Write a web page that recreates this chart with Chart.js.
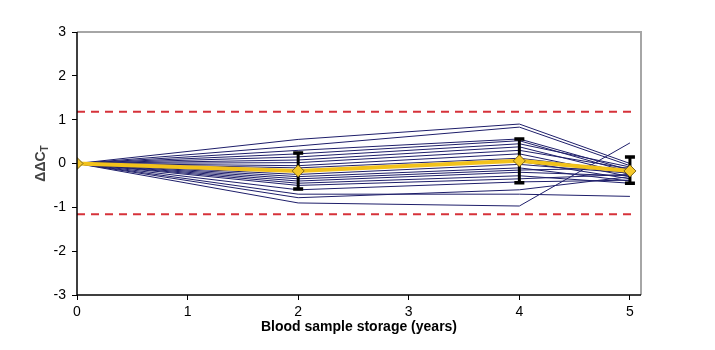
<!DOCTYPE html>
<html>
<head>
<meta charset="utf-8">
<script src="https://cdn.jsdelivr.net/npm/chart.js@4"></script>
<style>
  html, body { margin: 0; padding: 0; background: #fff; }
  #wrap { width: 715px; height: 350px; }
</style>
</head>
<body>
<div id="wrap"><canvas id="myChart" width="715" height="350"></canvas></div>
<script>
// ---------------- dados ----------------
const years = [0, 2, 4, 5];

// amostras individuais (valores em 0, 2, 4, 5 anos)
const samples = [
    [0, 0.55, 0.90, 0.00],
    [0, 0.40, 0.83, -0.05],
    [0, 0.30, 0.56, -0.15],
    [0, 0.22, 0.52, -0.20],
    [0, 0.15, 0.45, -0.08],
    [0, 0.08, 0.38, -0.25],
    [0, 0.02, 0.30, -0.12],
    [0, -0.05, 0.22, -0.30],
    [0, -0.10, 0.12, -0.18],
    [0, -0.18, 0.05, -0.35],
    [0, -0.25, -0.02, -0.22],
    [0, -0.30, -0.10, -0.40],
    [0, -0.35, -0.15, -0.10],
    [0, -0.40, -0.20, -0.28],
    [0, -0.45, -0.28, -0.45],
    [0, -0.50, -0.35, -0.25],
    [0, -0.60, -0.42, -0.38],
    [0, -0.70, -0.70, -0.75],
    [0, -0.78, -0.60, -0.30],
    [0, -0.90, -0.97, 0.47]
];

const meanValues = [0, -0.17, 0.06, -0.17];
const errHigh = [null, 0.24, 0.56, 0.15];
const errLow = [null, -0.58, -0.44, -0.45];

const limitUpper = 1.18;
const limitLower = -1.16;
const limitX = [0, 5.05];

const yTicks = [-3, -2, -1, 0, 1, 2, 3];
const xTicks = [0, 1, 2, 3, 4, 5];

// ---------------- montar datasets ----------------
const pts = (xs, ys) => xs.map((x, i) => ({ x: x, y: ys[i] }));

const datasets = [];

// média (primeiro = desenhado por cima)
datasets.push({
    label: 'mean',
    data: pts(years, meanValues),
    borderColor: '#F2C21B',
    borderWidth: 4,
    pointStyle: 'rectRot',
    pointRadius: 6,
    pointBackgroundColor: '#F5C82A',
    pointBorderColor: '#7A6418',
    pointBorderWidth: 1,
    tension: 0
});

// limites
datasets.push({
    label: 'upper',
    data: pts(limitX, [limitUpper, limitUpper]),
    borderColor: '#D6323A',
    borderWidth: 2,
    borderDash: [8, 6],
    pointRadius: 0
});
datasets.push({
    label: 'lower',
    data: pts(limitX, [limitLower, limitLower]),
    borderColor: '#D6323A',
    borderWidth: 2,
    borderDash: [8, 6],
    pointRadius: 0
});

samples.forEach((s, i) => {
    datasets.push({
        label: 's' + (i + 1),
        data: pts(years, s),
        borderColor: '#1E1E6A',
        borderWidth: 1,
        pointRadius: 0,
        tension: 0
    });
});

// barras de erro (desenhadas logo antes da média)
const errorBars = {
    id: 'errorBars',
    beforeDatasetDraw(chart, args) {
        if (args.index !== 0) return;
        const ctx = chart.ctx;
        const xs = chart.scales.x, ys = chart.scales.y;
        ctx.save();
        ctx.strokeStyle = '#000';
        ctx.lineCap = 'butt';
        years.forEach((yr, i) => {
            if (errHigh[i] == null) return;
            const px = xs.getPixelForValue(yr);
            const top = ys.getPixelForValue(errHigh[i]);
            const bot = ys.getPixelForValue(errLow[i]);
            ctx.lineWidth = 3;
            ctx.beginPath();
            ctx.moveTo(px, top);
            ctx.lineTo(px, bot);
            ctx.stroke();
            ctx.lineWidth = 3.5;
            ctx.beginPath();
            ctx.moveTo(px - 5, top); ctx.lineTo(px + 5, top);
            ctx.moveTo(px - 5, bot); ctx.lineTo(px + 5, bot);
            ctx.stroke();
        });
        ctx.restore();
    }
};

// moldura cinza + título do eixo Y com subscrito
const frame = {
    id: 'frame',
    afterDraw(chart) {
        const ctx = chart.ctx;
        const a = chart.chartArea;
        ctx.save();
        ctx.strokeStyle = '#A6A6A6';
        ctx.lineWidth = 2;
        ctx.beginPath();
        ctx.moveTo(a.left, a.top);
        ctx.lineTo(a.right, a.top);
        ctx.lineTo(a.right, a.bottom);
        ctx.stroke();
        ctx.strokeStyle = '#000';
        ctx.lineWidth = 1.5;
        ctx.beginPath();
        ctx.moveTo(a.left, a.top);
        ctx.lineTo(a.left, a.bottom);
        ctx.lineTo(a.right, a.bottom);
        ctx.stroke();

        // ΔΔC_T
        ctx.translate(45, (a.top + a.bottom) / 2);
        ctx.rotate(-Math.PI / 2);
        ctx.fillStyle = '#444';
        ctx.font = 'bold 14px "Liberation Sans", Arial, sans-serif';
        ctx.textBaseline = 'alphabetic';
        const main = 'ΔΔC';
        const w1 = ctx.measureText(main).width;
        ctx.font = 'bold 10px "Liberation Sans", Arial, sans-serif';
        const w2 = ctx.measureText('T').width;
        const x0 = -(w1 + w2) / 2;
        ctx.font = 'bold 14px "Liberation Sans", Arial, sans-serif';
        ctx.fillText(main, x0, 0);
        ctx.font = 'bold 10px "Liberation Sans", Arial, sans-serif';
        ctx.fillText('T', x0 + w1, 3);
        ctx.restore();
    }
};

const tickFont = { family: '"Liberation Sans", Arial, sans-serif', size: 14 };

new Chart(document.getElementById('myChart'), {
    type: 'line',
    data: { datasets: datasets },
    options: {
        responsive: false,
        animation: false,
        layout: { padding: { left: 0, right: 74, top: 32, bottom: 14 } },
        plugins: {
            legend: { display: false },
            tooltip: { enabled: false }
        },
        scales: {
            x: {
                type: 'linear',
                min: 0,
                max: 5.1,
                border: { display: false },
                grid: { drawOnChartArea: false, drawTicks: true, tickLength: 5, color: '#000' },
                ticks: {
                    stepSize: 1,
                    includeBounds: false,
                    color: '#000',
                    font: tickFont,
                    padding: 4,
                    maxRotation: 0
                },
                afterBuildTicks(scale) {
                    scale.ticks = xTicks.map(v => ({ value: v }));
                },
                title: {
                    display: true,
                    text: 'Blood sample storage (years)',
                    color: '#000',
                    font: { family: '"Liberation Sans", Arial, sans-serif', size: 14, weight: 'bold' },
                    padding: { top: 0, bottom: 0 }
                },
                afterFit(scale) { scale.height = 41; }
            },
            y: {
                type: 'linear',
                min: -3,
                max: 3,
                border: { display: false },
                grid: { drawOnChartArea: false, drawTicks: true, tickLength: 5, color: '#000' },
                ticks: {
                    stepSize: 1,
                    color: '#000',
                    font: tickFont,
                    padding: 6
                },
                afterBuildTicks(scale) {
                    scale.ticks = yTicks.map(v => ({ value: v }));
                },
                afterFit(scale) { scale.width = 77; }
            }
        }
    },
    plugins: [errorBars, frame]
});
</script>
</body>
</html>
